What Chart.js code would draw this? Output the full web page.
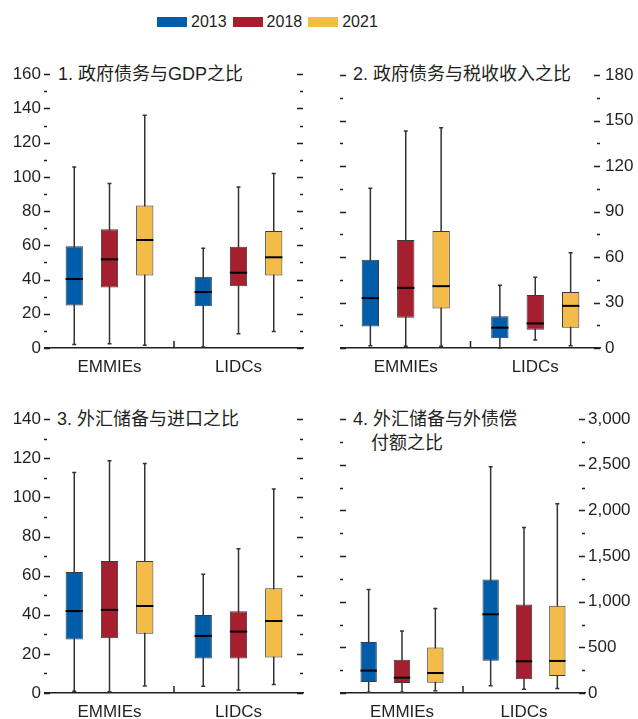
<!DOCTYPE html>
<html>
<head>
<meta charset="utf-8">
<script src="https://cdn.jsdelivr.net/npm/chart.js@4/dist/chart.umd.min.js"></script>
<style>
  body { margin: 0; width: 638px; height: 719px; position: relative; background: #fff; overflow: hidden;
         font-family: "Liberation Sans", "Noto Sans CJK SC", sans-serif; color: #231f20; }
  canvas { position: absolute; }
  .title { position: absolute; font-size: 18px; line-height: 24px; white-space: nowrap; }
  #legend { position: absolute; top: 13px; left: 157px; display: flex; align-items: center; font-size: 16px; }
  #legend i { display: inline-block; width: 30px; height: 10px; margin-right: 4px; }
  #legend span { margin-right: 6px; }
</style>
</head>
<body>
<div id="legend"></div>
<div class="title" style="left:58px; top:62px">1. 政府债务与GDP之比</div>
<div class="title" style="left:353px; top:62px">2. 政府债务与税收收入之比</div>
<div class="title" style="left:57px; top:407px">3. 外汇储备与进口之比</div>
<div class="title" style="left:353px; top:407px">4. 外汇储备与外债偿<br><span style="margin-left:18px">付额之比</span></div>
<canvas id="c1" width="320" height="318" style="left:0; top:60px"></canvas>
<canvas id="c2" width="318" height="318" style="left:320px; top:60px"></canvas>
<canvas id="c3" width="320" height="318" style="left:0; top:405px"></canvas>
<canvas id="c4" width="318" height="318" style="left:320px; top:405px"></canvas>
<script>
// 盒须图数据：每行 [最小值, 下四分位, 中位数, 上四分位, 最大值]，先 EMMIEs 后 LIDCs
const categories = ['EMMIEs', 'LIDCs'];
const years = ['2013', '2018', '2021'];
const yearColors = ['#005da9', '#a61f2f', '#f3bc48'];

// 1. 政府债务与GDP之比
const debtGdp2013 = [[2.1, 24.8, 40.3, 59.4, 105.8], [0.6, 24.4, 32.7, 41.7, 58.3]];
const debtGdp2018 = [[2.5, 35.3, 51.8, 69.4, 96.1], [8.4, 36.1, 44.0, 59.1, 94.1]];
const debtGdp2021 = [[1.6, 42.3, 63.1, 83.2, 136.0], [9.7, 42.3, 53.0, 68.4, 101.9]];

// 2. 政府债务与税收收入之比
const debtTax2013 = [[1.5, 14.2, 32.9, 58.3, 105.4], [0, 6.4, 13.4, 21.0, 41.4]];
const debtTax2018 = [[1.1, 19.9, 39.7, 71.2, 143.1], [5.3, 12.1, 16.2, 34.9, 46.7]];
const debtTax2021 = [[1.1, 26.1, 40.8, 77.2, 145.3], [1.5, 13.4, 27.8, 37.0, 62.9]];

// 3. 外汇储备与进口之比
const resImp2013 = [[0.9, 27.3, 41.9, 61.9, 112.7], [3.4, 17.6, 29.2, 39.9, 60.7]];
const resImp2018 = [[0.7, 28.0, 42.5, 67.5, 118.7], [1.5, 17.6, 31.4, 41.8, 73.8]];
const resImp2021 = [[3.6, 30.3, 44.5, 67.5, 117.3], [4.3, 18.1, 36.8, 53.5, 104.3]];

// 4. 外汇储备与外债偿付额之比
const resDebt2013 = [[7, 121, 245, 559, 1133], [80, 354, 862, 1242, 2477]];
const resDebt2018 = [[7, 110, 168, 365, 680], [40, 150, 347, 968, 1812]];
const resDebt2021 = [[26, 113, 219, 497, 924], [48, 186, 351, 954, 2072]];

// 图例
const legend = document.getElementById('legend');
years.forEach(function(y, i) {
    legend.innerHTML += '<i style="background:' + yearColors[i] + '"></i><span>' + y + '</span>';
});

const inkColor = '#231f20';

// 须线、中位线、内向刻度和类别分隔刻度
const boxPlugin = {
    id: 'boxPlugin',
    beforeDatasetsDraw(chart) {
        const ctx = chart.ctx;
        const ys = chart.scales.y;
        ctx.save();
        ctx.strokeStyle = '#333';
        ctx.lineWidth = 1.5;
        chart.data.datasets.forEach(function(ds, i) {
            chart.getDatasetMeta(i).data.forEach(function(el, j) {
                const s = ds.stats[j];
                const top = ys.getPixelForValue(s[4]);
                const bot = ys.getPixelForValue(s[0]);
                ctx.beginPath();
                ctx.moveTo(el.x, top); ctx.lineTo(el.x, bot);
                ctx.moveTo(el.x - 2, top); ctx.lineTo(el.x + 2, top);
                ctx.moveTo(el.x - 2, bot); ctx.lineTo(el.x + 2, bot);
                ctx.stroke();
            });
        });
        ctx.restore();
    },
    afterDatasetsDraw(chart) {
        const ctx = chart.ctx;
        const ys = chart.scales.y;
        const xs = chart.scales.x;
        const area = chart.chartArea;
        const o = chart.options.plugins.boxPlugin;
        ctx.save();
        ctx.strokeStyle = '#000';
        ctx.lineWidth = 2;
        chart.data.datasets.forEach(function(ds, i) {
            chart.getDatasetMeta(i).data.forEach(function(el, j) {
                const y = ys.getPixelForValue(ds.stats[j][2]);
                ctx.beginPath();
                ctx.moveTo(el.x - el.width / 2, y);
                ctx.lineTo(el.x + el.width / 2, y);
                ctx.stroke();
            });
        });
        // 两侧刻度
        ctx.strokeStyle = inkColor;
        ctx.lineWidth = 1.3;
        for (let v = ys.min; v <= ys.max + 1e-6; v += o.minor) {
            const y = Math.round(ys.getPixelForValue(v)) + 0.5;
            const len = (Math.abs(v % o.major) < 1e-6) ? 6 : 3;
            ctx.beginPath();
            ctx.moveTo(area.left - 1, y); ctx.lineTo(area.left - 1 + len, y);
            ctx.moveTo(area.right - len, y); ctx.lineTo(area.right, y);
            ctx.stroke();
        }
        // 类别分隔刻度
        const mid = (xs.getPixelForValue(0) + xs.getPixelForValue(1)) / 2;
        ctx.lineWidth = 1.5;
        ctx.beginPath();
        ctx.moveTo(mid, area.bottom); ctx.lineTo(mid, area.bottom - 7);
        ctx.stroke();
        ctx.restore();
    }
};

function makeChart(id, series, axis) {
    const datasets = series.map(function(s, k) {
        return {
            label: years[k],
            data: s.map(function(r) { return [r[1], r[3]]; }),
            stats: s,
            backgroundColor: yearColors[k],
            borderColor: '#3a3a3a',
            borderWidth: 1,
            borderSkipped: false,
            barPercentage: 0.49,
            categoryPercentage: 0.82
        };
    });
    return new Chart(document.getElementById(id), {
        type: 'bar',
        data: { labels: categories, datasets: datasets },
        plugins: [boxPlugin],
        options: {
            responsive: false,
            animation: false,
            layout: { padding: axis.padding },
            plugins: {
                legend: { display: false },
                tooltip: { enabled: false },
                boxPlugin: { major: axis.step, minor: axis.step / 2 }
            },
            scales: {
                x: {
                    grid: { display: false, drawTicks: false },
                    border: { display: true, color: inkColor, width: 1.5 },
                    ticks: { color: inkColor, font: { size: 17, family: 'Liberation Sans' }, padding: 9 },
                    afterFit: function(s) { s.height = 30; }
                },
                y: {
                    position: axis.position,
                    min: 0, max: axis.max,
                    grid: { display: false, drawTicks: false },
                    border: { display: false },
                    ticks: {
                        stepSize: axis.step,
                        padding: axis.labelPad,
                        color: inkColor,
                        font: { size: 17, family: 'Liberation Sans' },
                        callback: function(v) { return v.toLocaleString('en-US'); }
                    },
                    afterFit: function(s) { s.width = axis.width; }
                }
            }
        }
    });
}

makeChart('c1', [debtGdp2013, debtGdp2018, debtGdp2021],
    { position: 'left', max: 160, step: 20, width: 45, labelPad: 4, padding: { top: 14, right: 17 } });
makeChart('c2', [debtTax2013, debtTax2018, debtTax2021],
    { position: 'right', max: 180, step: 30, width: 38, labelPad: 5, padding: { top: 14, left: 21 } });
makeChart('c3', [resImp2013, resImp2018, resImp2021],
    { position: 'left', max: 140, step: 20, width: 45, labelPad: 4, padding: { top: 14, right: 17 } });
makeChart('c4', [resDebt2013, resDebt2018, resDebt2021],
    { position: 'right', max: 3000, step: 500, width: 53, labelPad: 3, padding: { top: 14, left: 21 } });
</script>
</body>
</html>
